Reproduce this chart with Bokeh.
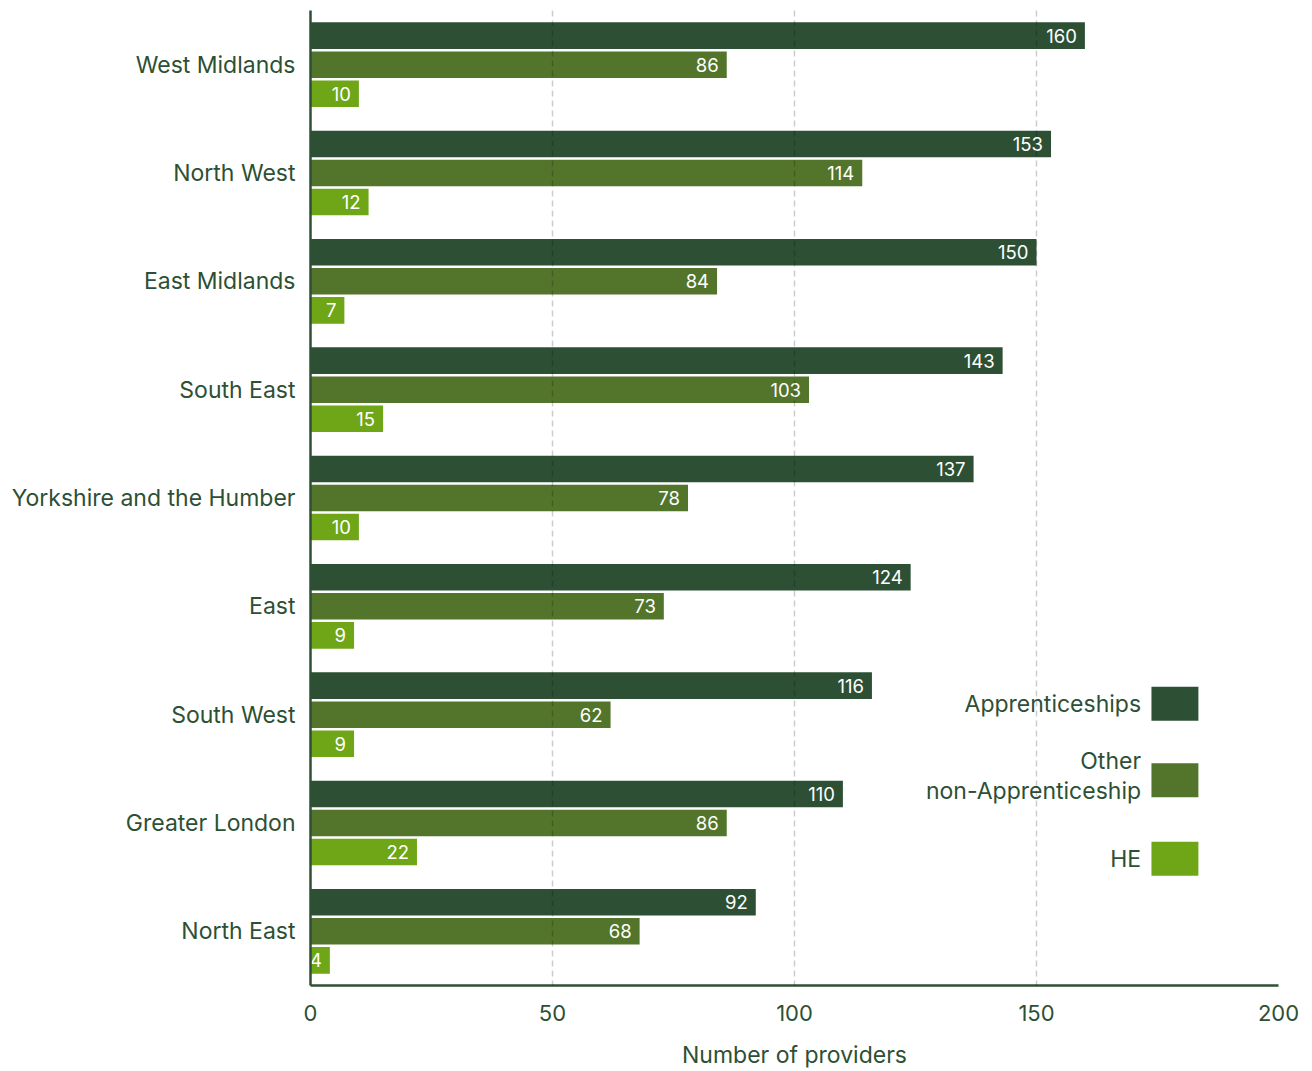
from bokeh.plotting import figure
from bokeh.models import ColumnDataSource, Range1d, FixedTicker
from bokeh.embed import file_html
from bokeh.resources import INLINE
from bokeh.core.properties import value

regions = ["West Midlands", "North West", "East Midlands", "South East",
           "Yorkshire and the Humber", "East", "South West", "Greater London", "North East"]
apprenticeships = [160, 153, 150, 143, 137, 124, 116, 110, 92]
other_non_app = [86, 114, 84, 103, 78, 73, 62, 86, 68]
he = [10, 12, 7, 15, 10, 9, 9, 22, 4]
series_names = ["Apprenticeships", "Other non-Apprenticeship", "HE"]
x_ticks = [0, 50, 100, 150, 200]

colors = ["#2D5035", "#52752B", "#6FA617"]
text_color = "#2D5035"
font = "Inter"
offsets = [-0.268, 0.0, 0.268]
bar_h = 0.245

p = figure(width=1312, height=1071, frame_width=968, frame_height=975,
           x_range=Range1d(0, 200), y_range=Range1d(8.5, -0.5),
           output_backend="svg", toolbar_location=None,
           min_border_left=310, min_border_right=34, min_border_top=10, min_border_bottom=86)
p.outline_line_color = None
p.background_fill_color = "white"

idx = list(range(len(regions)))
for vals, off, col in zip([apprenticeships, other_non_app, he], offsets, colors):
    src = ColumnDataSource(dict(y=[i + off for i in idx], v=vals,
                                lab=[str(v) for v in vals]))
    p.hbar(y="y", left=0, right="v", height=bar_h, source=src,
           fill_color=col, line_color=None)
    p.text(x="v", y="y", text="lab", source=src, x_offset=-8,
           text_align="right", text_baseline="middle", text_color="white",
           text_font=value(font), text_font_size="18.5px")

# legend drawn manually
leg_y = [5.9, 6.43, 6.70, 7.33]
leg_src = ColumnDataSource(dict(y=[5.9, 6.605, 7.33], c=colors))
p.rect(x=178.6, y="y", width=9.7, height=0.314, source=leg_src,
       fill_color="c", line_color=None)
leg_text = ColumnDataSource(dict(y=leg_y,
                                 t=["Apprenticeships", "Other", "non-Apprenticeship", "HE"]))
p.text(x=171.6, y="y", text="t", source=leg_text, text_align="right",
       text_baseline="middle", text_color=text_color,
       text_font=value(font), text_font_size="23px")

# x axis
xa = p.xaxis[0]
xa.ticker = FixedTicker(ticks=x_ticks)
xa.axis_line_color = text_color
xa.axis_line_width = 2.5
xa.major_tick_line_color = None
xa.minor_tick_line_color = None
xa.major_label_text_color = text_color
xa.major_label_text_font = font
xa.major_label_text_font_size = "22px"
xa.major_label_standoff = 13
xa.axis_label = "Number of providers"
xa.axis_label_text_color = text_color
xa.axis_label_text_font = font
xa.axis_label_text_font_size = "23px"
xa.axis_label_text_font_style = "normal"
xa.axis_label_standoff = 17

# y axis
ya = p.yaxis[0]
ya.ticker = FixedTicker(ticks=idx)
ya.major_label_overrides = {i: r for i, r in enumerate(regions)}
ya.axis_line_color = text_color
ya.axis_line_width = 2.5
ya.major_tick_line_color = None
ya.minor_tick_line_color = None
ya.major_label_text_color = text_color
ya.major_label_text_font = font
ya.major_label_text_font_size = "23px"
ya.major_label_standoff = 9

p.xgrid.ticker = FixedTicker(ticks=[50, 100, 150, 200])
p.xgrid.grid_line_color = "black"
p.xgrid.grid_line_alpha = 0.2
p.xgrid.grid_line_dash = "6 4"
p.xgrid.grid_line_width = 1.5
p.xgrid.level = "overlay"
p.ygrid.grid_line_color = None

open("out.html", "w").write(file_html(p, INLINE))
